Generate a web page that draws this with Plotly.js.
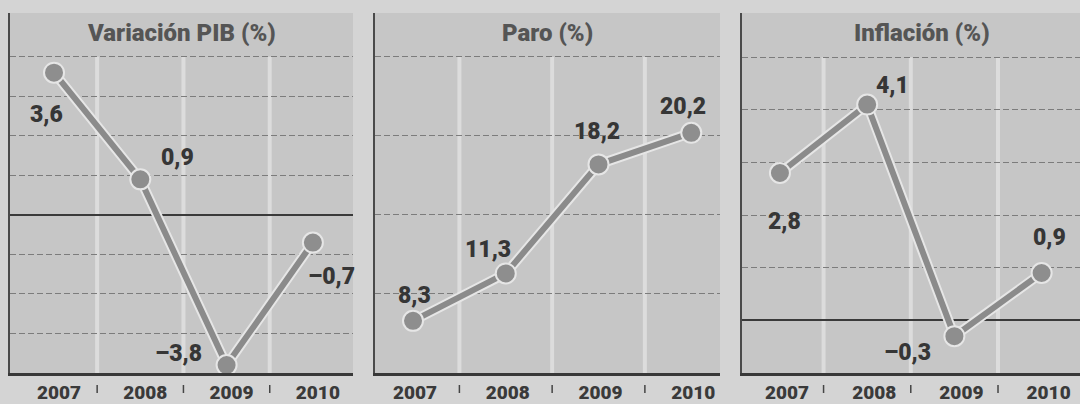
<!DOCTYPE html>
<html>
<head>
<meta charset="utf-8">
<script src="https://cdn.plot.ly/plotly-3.0.1.min.js"></script>
<style>
html,body{margin:0;padding:0;background:#d3d3d3;}
#chart{width:1080px;height:404px;}
</style>
</head>
<body>
<div id="chart"></div>
<script>
// ---- data ----
const years = ['2007', '2008', '2009', '2010'];
const pib = [3.6, 0.9, -3.8, -0.7];
const paro = [8.3, 11.3, 18.2, 20.2];
const inflacion = [2.8, 4.1, -0.3, 0.9];
const titles = ['Variación PIB (%)', 'Paro (%)', 'Inflación (%)'];
const gridPib = [-4, -3, -2, -1, 0, 1, 2, 3, 4];
const gridParo = [5, 10, 15, 20, 25];
const gridInfl = [-1, 0, 1, 2, 3, 4, 5];

// ---- styling / layout ----
const FONT = "Roboto, 'Liberation Sans', sans-serif";
const W = 1080, H = 404;
const plotTop = 13, plotBottom = 373;
const yDom = [(H - plotBottom) / H, (H - plotTop) / H];

const panels = [
  { vals: pib, grid: gridPib, yr: [-4, 5.11], xr: [-0.51, 3.465], px: [10, 353], titleShift: 0, tickShift: 5,
    off: [[-8, 42], [37, -22], [-48, -12], [19, 34]] },
  { vals: paro, grid: gridParo, yr: [5, 27.78], xr: [-0.41, 3.31], px: [375, 720], titleShift: 0, tickShift: 2,
    off: [[1, -25], [-18, -24], [-2, -33], [-8, -26]] },
  { vals: inflacion, grid: gridInfl, yr: [-1, 5.84], xr: [-0.435, 3.44], px: [742, 1080], titleShift: 11, tickShift: 7,
    off: [[5, 48], [25, -19], [-47, 16], [8, -36]] }
];

const fmt = v => (v < 0 ? '\u2013' : '') + Math.abs(v).toFixed(1).replace('.', ',');

const data = [];
const layout = {
  width: W, height: H,
  margin: { l: 0, r: 0, t: 0, b: 0 },
  paper_bgcolor: '#d4d4d4',
  plot_bgcolor: '#c6c6c6',
  showlegend: false,
  annotations: [],
  shapes: []
};

panels.forEach((p, i) => {
  const n = i === 0 ? '' : String(i + 1);
  const xa = 'x' + n, ya = 'y' + n;
  data.push({
    x: years, y: p.vals, xaxis: xa, yaxis: ya, type: 'scatter', mode: 'lines',
    line: { color: '#e6e6e6', width: 10 }, cliponaxis: false, hoverinfo: 'skip'
  });
  data.push({
    x: years, y: p.vals, xaxis: xa, yaxis: ya, type: 'scatter', mode: 'lines+markers',
    line: { color: '#8b8b8b', width: 6 },
    marker: { size: 20, color: '#8e8e8e', line: { color: '#e6e6e6', width: 2 } },
    cliponaxis: false
  });

  const dom = [p.px[0] / W, p.px[1] / W];
  layout['xaxis' + n] = {
    domain: dom, anchor: ya, type: 'category', range: p.xr,
    showgrid: false, zeroline: false,
    showline: true, linecolor: '#383838', linewidth: 2.5,
    ticks: '', ticklabelstandoff: 1, ticklabelshift: p.tickShift,
    tickfont: { family: FONT, size: 19, color: '#3a3a3a', weight: 900 },
    fixedrange: true
  };
  layout['yaxis' + n] = {
    domain: yDom, anchor: xa, range: p.yr,
    tickmode: 'array', tickvals: p.grid, showticklabels: false,
    showgrid: true, gridcolor: '#7c7c7c', gridwidth: 1, griddash: '6px,3px',
    zeroline: true, zerolinecolor: '#3a3a3a', zerolinewidth: 2,
    showline: true, linecolor: '#4a4a4a', linewidth: 2,
    ticks: '', fixedrange: true
  };

  layout.annotations.push({
    text: titles[i], xref: 'paper', yref: 'paper',
    x: (dom[0] + dom[1]) / 2, y: (H - 33) / H, xshift: p.titleShift,
    xanchor: 'center', yanchor: 'middle', showarrow: false,
    font: { family: FONT, size: 24, color: '#555555', weight: 900 }
  });
  p.vals.forEach((v, k) => {
    layout.annotations.push({
      text: fmt(v), xref: xa, yref: ya, x: k, y: v,
      xshift: p.off[k][0], yshift: -p.off[k][1],
      xanchor: 'center', yanchor: 'middle', showarrow: false,
      font: { family: FONT, size: 23, color: '#363636', weight: 900 }
    });
  });
  [0.5, 1.5, 2.5].forEach(b => {
    layout.shapes.push({
      type: 'line', xref: xa, yref: ya, x0: b, x1: b,
      y0: p.yr[0], y1: p.grid[p.grid.length - 1],
      line: { color: '#dcdcdc', width: 4 }, layer: 'below'
    });
    layout.shapes.push({
      type: 'line', xref: xa, yref: 'paper', x0: b, x1: b,
      y0: (H - 393) / H, y1: (H - 385) / H,
      line: { color: '#444444', width: 1.5 }
    });
  });
});

Plotly.newPlot('chart', data, layout, { staticPlot: true, displayModeBar: false });
</script>
</body>
</html>
